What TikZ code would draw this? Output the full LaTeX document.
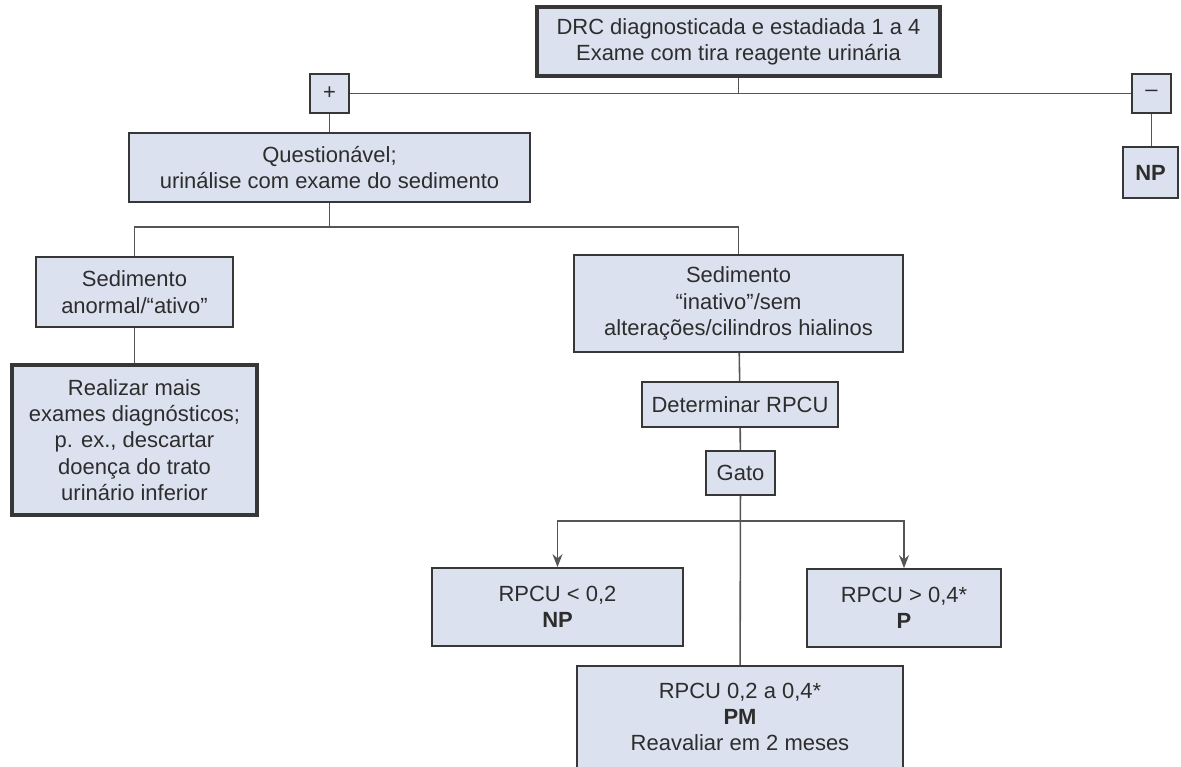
\documentclass[tikz,border=0pt]{standalone}
\usepackage{fontspec}
\setmainfont{Liberation Sans}
\usepackage{tikz}
\usepackage{xcolor}
\usetikzlibrary{arrows.meta, positioning, calc}
\definecolor{cFill}{RGB}{219,225,238}
\definecolor{cEdge}{RGB}{55,55,55}
\definecolor{cLine}{RGB}{85,85,85}
\definecolor{cText}{RGB}{45,45,45}
\tikzset{
	box/.style     ={rectangle, draw=cEdge, line width=1pt, fill=cFill, align=center, text=cText, inner sep=2pt},
	thickbox/.style={box, line width=1.8pt},
	signbox/.style ={box, minimum width=0.78cm, minimum height=0.78cm},
	link/.style    ={draw=cLine, line width=0.9pt},
	sig/.style     ={link, -{Stealth[length=2.6mm, width=2mm]}},
}

\begin{document}
\begin{tikzpicture}[font=\fontsize{12.5}{15}\selectfont]
	\clip (0,0) rectangle (23.62,-15.32);
	% top of the tree
	\node[thickbox, minimum width=8.06cm, minimum height=1.38cm] (drc) at (14.77,-0.83) {DRC diagnosticada e estadiada 1 a 4\\ Exame com tira reagente urinária};
	\node[signbox] (plus) at (6.59,-1.87) {+};
	\node[signbox] (minus) at (23.03,-1.87) {\textendash};
	\node[box, minimum width=1.1cm, minimum height=1.02cm] (npneg) at (23.01,-3.45) {\textbf{NP}};
	\node[box, minimum width=8.02cm, minimum height=1.38cm] (quest) at (6.59,-3.35) {Questionável;\\ urinálise com exame do sedimento};
	% sediment branches
	\node[box, minimum width=3.94cm, minimum height=1.4cm] (sedat) at (2.69,-5.84) {Sedimento\\ anormal/“ativo”};
	\node[thickbox, minimum width=4.9cm, minimum height=3cm] (mais) at (2.69,-8.8) {Realizar mais\\ exames diagnósticos;\\ p. ex., descartar\\ doença do trato\\ urinário inferior};
	\node[box, minimum width=6.58cm, minimum height=1.94cm] (sedin) at (14.77,-6.07) {Sedimento\\ “inativo”/sem\\ alterações/cilindros hialinos};
	\node[box, minimum width=3.92cm, minimum height=0.9cm] (rpcu) at (14.8,-8.09) {Determinar RPCU};
	\node[box, minimum width=1.38cm, minimum height=0.88cm] (gato) at (14.81,-9.46) {Gato};
	% results
	\node[box, minimum width=5.02cm, minimum height=1.56cm] (low) at (11.15,-12.14) {RPCU < 0,2\\ \textbf{NP}};
	\node[box, minimum width=3.88cm, minimum height=1.56cm] (high) at (18.08,-12.16) {RPCU > 0,4*\\ \textbf{P}};
	\node[box, minimum width=6.52cm, minimum height=2.04cm] (pm) at (14.8,-14.34) {RPCU 0,2 a 0,4*\\ \textbf{PM}\\ Reavaliar em 2 meses};

	\coordinate (j0) at (drc.south |- plus.east);
	\coordinate (j1) at (6.59,-4.54);
	\coordinate (j2) at (gato.south |- 0,-10.42);
	\draw[link] (drc) -- (j0);
	\draw[link] (plus) -- (minus);
	\draw[link] (plus) -- (quest);
	\draw[link] (minus) -- (minus.south |- npneg.north);
	\draw[link] (quest) -- (j1);
	\draw[link] (sedat) |- (j1) -| (sedin);
	\draw[link] (sedat) -- (mais);
	\draw[link] (sedin) -- (rpcu);
	\draw[link] (rpcu) -- (gato);
	\draw[link] (gato) -- (pm);
	\draw[sig] (j2) -| (low);
	\draw[sig] (j2) -| (high);
\end{tikzpicture}
\end{document}
